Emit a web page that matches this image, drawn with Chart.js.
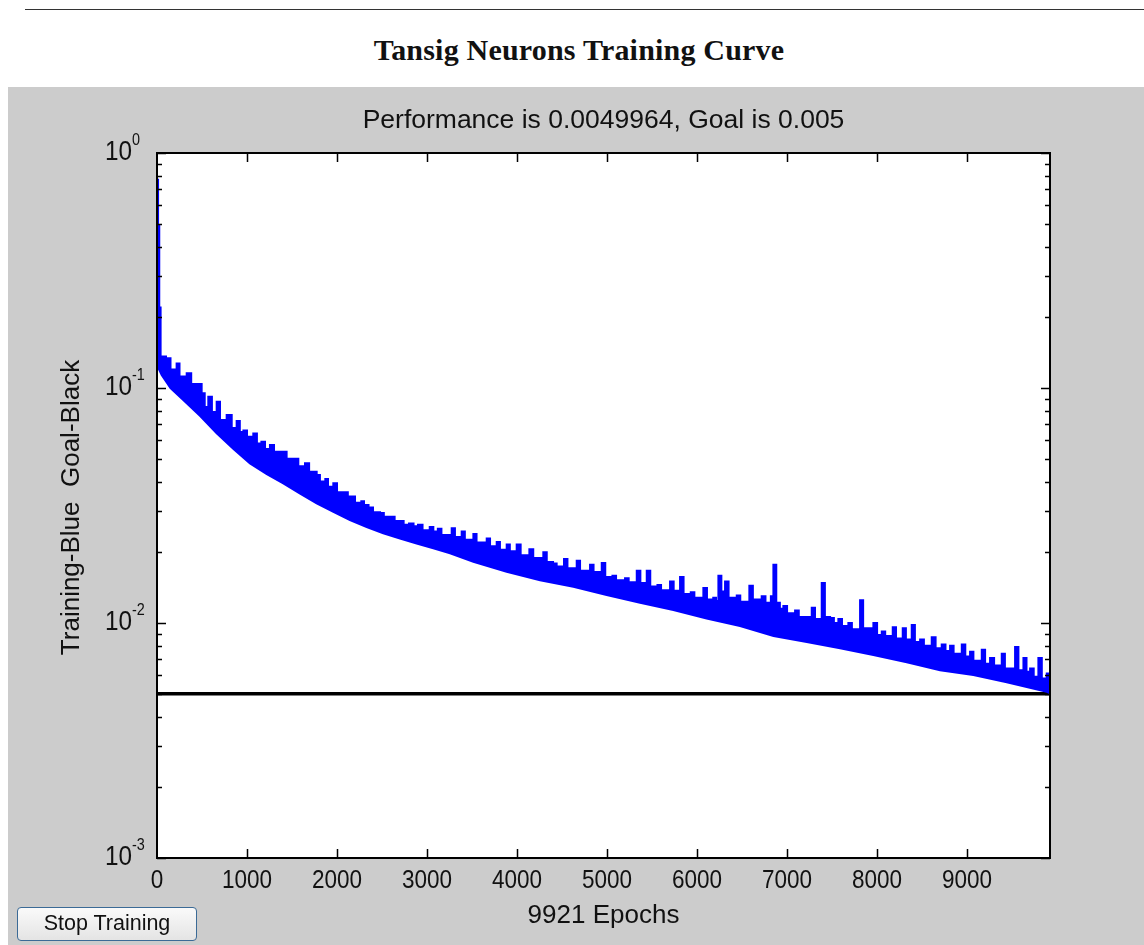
<!DOCTYPE html>
<html>
  <head>
    <meta charset="utf-8"/>
    <style>
      body { margin: 0; background: #fff; width: 1144px; height: 945px; overflow: hidden; position: relative; }
      #rule { position: absolute; left: 25px; right: 0; top: 9px; height: 1px; background: #333; }
      #title { position: absolute; left: 579px; top: 35px; transform: translateX(-50%); white-space: nowrap;
               font: bold 30px "Liberation Serif", serif; line-height: 30px; letter-spacing: 0.2px; color: #111; }
      #figure { position: absolute; left: 8px; top: 87px; width: 1136px; height: 858px; background: #cccccc; }
      #figure canvas { position: absolute; left: 0; top: 0; }
      #stop { position: absolute; left: 9px; top: 820px; width: 180px; height: 34px; box-sizing: border-box;
              border: 1.5px solid #3b6a96; border-radius: 4px; background: linear-gradient(#fafafa, #e4e4e4);
              font: 21.5px "Liberation Sans", Arial, sans-serif; line-height: 31px; text-align: center; color: #111; }
    </style>
  </head>
  <body>
    <div id="rule"></div>
    <div id="title">Tansig Neurons Training Curve</div>
    <div id="figure">
      <canvas id="chart-area" width="1136" height="858"></canvas>
      <div id="stop">Stop Training</div>
    </div>

    <script src="https://cdn.jsdelivr.net/npm/chart.js@4/dist/chart.umd.min.js"></script>
    <script>
        // upper edge of the training trace, spike tops and the dips between them
        var epochsHigh = [0, 12, 25, 40, 100, 150, 218, 250, 330, 380, 496, 530, 570, 610, 663, 700, 774, 830,
            885, 920, 960, 1000, 1070, 1110, 1160, 1200, 1255, 1300, 1400, 1440, 1533, 1570, 1644, 1690, 1774,
            1810, 1870, 1900, 1959, 2000, 2080, 2120, 2160, 2200, 2270, 2300, 2350, 2400, 2478, 2520, 2600,
            2640, 2700, 2740, 2800, 2850, 2900, 2950, 3030, 3070, 3120, 3160, 3274, 3310, 3385, 3420, 3515,
            3550, 3663, 3700, 3774, 3810, 3885, 3920, 3996, 4040, 4137, 4180, 4292, 4330, 4400, 4440, 4522,
            4560, 4663, 4700, 4811, 4850, 4941, 4980, 5060, 5100, 5200, 5240, 5330, 5370, 5441, 5480, 5560,
            5600, 5700, 5740, 5811, 5850, 5930, 5970, 6070, 6110, 6180, 6210, 6237, 6270, 6311, 6350, 6441,
            6480, 6581, 6620, 6718, 6760, 6820, 6848, 6880, 6920, 6959, 7000, 7089, 7130, 7274, 7310, 7385,
            7420, 7478, 7520, 7570, 7610, 7681, 7720, 7811, 7845, 7959, 8000, 8052, 8090, 8174, 8210, 8285,
            8320, 8385, 8420, 8478, 8520, 8607, 8650, 8718, 8760, 8811, 8850, 8941, 8980, 9033, 9070, 9163,
            9200, 9255, 9300, 9385, 9420, 9533, 9570, 9626, 9660, 9700, 9740, 9792, 9830, 9885, 9921];
        var perfHigh = [0.77, 0.49, 0.22, 0.136, 0.134, 0.12, 0.127, 0.112, 0.1155, 0.104, 0.095, 0.083,
            0.0917, 0.079, 0.0873, 0.073, 0.0768, 0.0676, 0.0723, 0.065, 0.066, 0.062, 0.064, 0.058, 0.059,
            0.055, 0.0572, 0.0536, 0.0536, 0.05, 0.05, 0.0464, 0.0478, 0.044, 0.0426, 0.04, 0.041, 0.038,
            0.0393, 0.036, 0.036, 0.0345, 0.0345, 0.0325, 0.033, 0.0318, 0.031, 0.0296, 0.0294, 0.0283,
            0.0283, 0.0272, 0.0272, 0.0262, 0.0265, 0.0258, 0.0262, 0.0248, 0.0256, 0.0245, 0.0252, 0.0237,
            0.0253, 0.0232, 0.0245, 0.0226, 0.0239, 0.022, 0.0229, 0.0212, 0.0221, 0.0205, 0.0216, 0.0202,
            0.0216, 0.0194, 0.0206, 0.0189, 0.02, 0.0182, 0.0179, 0.0174, 0.0187, 0.0171, 0.0184, 0.0167,
            0.0177, 0.0165, 0.018, 0.0157, 0.0159, 0.0152, 0.0155, 0.0149, 0.0167, 0.0148, 0.0167, 0.0143,
            0.0145, 0.0138, 0.015, 0.0137, 0.0157, 0.0133, 0.0135, 0.0128, 0.0141, 0.0126, 0.0128, 0.0124,
            0.0159, 0.0136, 0.015, 0.0128, 0.0131, 0.0123, 0.0144, 0.0126, 0.013, 0.0122, 0.013, 0.0177,
            0.0122, 0.0115, 0.0118, 0.011, 0.0113, 0.0106, 0.0116, 0.0104, 0.0148, 0.0106, 0.0105, 0.01,
            0.0104, 0.0097, 0.01, 0.0094, 0.0125, 0.0095, 0.01, 0.0089, 0.0092, 0.0088, 0.0096, 0.0086,
            0.0095, 0.0085, 0.0098, 0.0083, 0.0085, 0.008, 0.0087, 0.0078, 0.0081, 0.0076, 0.008, 0.0074,
            0.0081, 0.0072, 0.00755, 0.0069, 0.0077, 0.0067, 0.0071, 0.0066, 0.0074, 0.0064, 0.0079, 0.0063,
            0.0071, 0.0062, 0.0064, 0.0059, 0.0071, 0.0058, 0.0061, 0.0050];

        // lower edge of the training trace
        var epochsLow = [0, 52, 150, 292, 480, 663, 850, 1033, 1220, 1403, 1590, 1774, 1960, 2144, 2330,
            2514, 2700, 2885, 3070, 3256, 3515, 3885, 4256, 4626, 4996, 5367, 5737, 6107, 6478, 6850, 7219,
            7589, 7959, 8330, 8700, 9070, 9441, 9885, 9921];
        var perfLow = [0.125, 0.1135, 0.1, 0.0889, 0.076, 0.0642, 0.055, 0.0478, 0.043, 0.0393, 0.0355,
            0.0323, 0.0297, 0.0274, 0.0256, 0.0241, 0.0229, 0.0218, 0.0208, 0.0198, 0.0182, 0.0165, 0.0152,
            0.01426, 0.01315, 0.0122, 0.01136, 0.01046, 0.0097, 0.0088, 0.0083, 0.0078, 0.0073, 0.0068,
            0.0063, 0.006, 0.0056, 0.0051, 0.0050];

        var goalEpochs = [0, 9921];
        var goalValues = [0.005, 0.005];

        var xTicks = [0, 1000, 2000, 3000, 4000, 5000, 6000, 7000, 8000, 9000];
        var yTicks = [0.001, 0.01, 0.1, 1];
        var yTickExp = ['-3', '-2', '-1', '0'];

        var perfTitle = 'Performance is 0.0049964, Goal is 0.005';
        var xTitle = '9921 Epochs';
        var yTitle = 'Training-Blue  Goal-Black';

        var toPoints = function(xs, ys) {
            var pts = [];
            for (var i = 0; i < xs.length; i++) {
                pts.push({x: xs[i], y: ys[i]});
            }
            return pts;
        };

        var FONT = '"Liberation Sans", Arial, sans-serif';
        var drawText = function(ctx, s, x, y, size, align, sx, rot) {
            ctx.save();
            ctx.translate(x, y);
            if (rot) ctx.rotate(rot);
            ctx.scale(sx, 1);
            ctx.font = size + 'px ' + FONT;
            ctx.textAlign = align;
            ctx.textBaseline = 'middle';
            ctx.fillStyle = '#111';
            ctx.fillText(s, 0, 0);
            ctx.restore();
        };

        // white plot area, matlab style box with inward ticks and labels
        var matlabAxes = {
            id: 'matlabAxes',
            beforeDatasetsDraw: function(chart) {
                var a = chart.chartArea, ctx = chart.ctx;
                ctx.save();
                ctx.fillStyle = '#fff';
                ctx.fillRect(a.left, a.top, a.right - a.left, a.bottom - a.top);
                ctx.restore();
            },
            afterDraw: function(chart) {
                var a = chart.chartArea, ctx = chart.ctx;
                var xs = chart.scales.x, ys = chart.scales.y;
                ctx.save();
                ctx.strokeStyle = '#000';
                ctx.lineWidth = 1.5;
                ctx.beginPath();
                var i, px, py, d, m;
                for (i = 1; i < xTicks.length; i++) {
                    px = Math.round(xs.getPixelForValue(xTicks[i])) + 0.5;
                    ctx.moveTo(px, a.bottom); ctx.lineTo(px, a.bottom - 9);
                    ctx.moveTo(px, a.top); ctx.lineTo(px, a.top + 9);
                }
                for (i = 0; i < yTicks.length; i++) {
                    py = Math.round(ys.getPixelForValue(yTicks[i])) + 0.5;
                    ctx.moveTo(a.left, py); ctx.lineTo(a.left + 9, py);
                    ctx.moveTo(a.right, py); ctx.lineTo(a.right - 9, py);
                }
                for (d = 0; d < yTicks.length - 1; d++) {
                    for (m = 2; m < 10; m++) {
                        py = Math.round(ys.getPixelForValue(yTicks[d] * m)) + 0.5;
                        ctx.moveTo(a.left, py); ctx.lineTo(a.left + 5, py);
                        ctx.moveTo(a.right, py); ctx.lineTo(a.right - 5, py);
                    }
                }
                ctx.stroke();
                ctx.lineWidth = 2;
                ctx.strokeRect(a.left, a.top, a.right - a.left, a.bottom - a.top);
                ctx.restore();

                for (i = 0; i < xTicks.length; i++) {
                    drawText(ctx, String(xTicks[i]), xs.getPixelForValue(xTicks[i]), a.bottom + 23, 25, 'center', 0.9);
                }
                for (i = 0; i < yTicks.length; i++) {
                    py = ys.getPixelForValue(yTicks[i]);
                    drawText(ctx, '10', a.left - 25, py, 27, 'right', 0.9);
                    drawText(ctx, yTickExp[i], a.left - 25, py - 12, 16, 'left', 0.9);
                }
                var cx = (a.left + a.right) / 2;
                drawText(ctx, perfTitle, cx, a.top - 32, 26.5, 'center', 1);
                drawText(ctx, xTitle, cx, a.bottom + 58, 26, 'center', 1);
                drawText(ctx, yTitle, 64, (a.top + a.bottom) / 2 + 2, 26, 'center', 1, -Math.PI / 2);
            }
        };

        var ctx = document.getElementById('chart-area').getContext('2d');
        var chart = new Chart(ctx, {
            type: 'line',
            data: {
                datasets: [{
                    label: 'trainLow',
                    data: toPoints(epochsLow, perfLow),
                    borderColor: '#0000ff',
                    borderWidth: 2,
                    pointRadius: 0,
                    fill: false
                }, {
                    label: 'trainHigh',
                    data: toPoints(epochsHigh, perfHigh),
                    borderColor: '#0000ff',
                    backgroundColor: '#0000ff',
                    borderWidth: 2,
                    pointRadius: 0,
                    stepped: true,
                    fill: '-1'
                }, {
                    label: 'goal',
                    data: toPoints(goalEpochs, goalValues),
                    borderColor: '#000',
                    borderWidth: 3.5,
                    pointRadius: 0,
                    fill: false
                }]
            },
            options: {
                responsive: false,
                animation: false,
                events: [],
                layout: { padding: { left: 149, top: 66, right: 94, bottom: 87 } },
                scales: {
                    x: { type: 'linear', min: 0, max: 9921, display: false },
                    y: { type: 'logarithmic', min: 0.001, max: 1, display: false }
                },
                plugins: {
                    legend: { display: false },
                    tooltip: { enabled: false }
                }
            },
            plugins: [matlabAxes]
        });
    </script>
    </body>
</html>
